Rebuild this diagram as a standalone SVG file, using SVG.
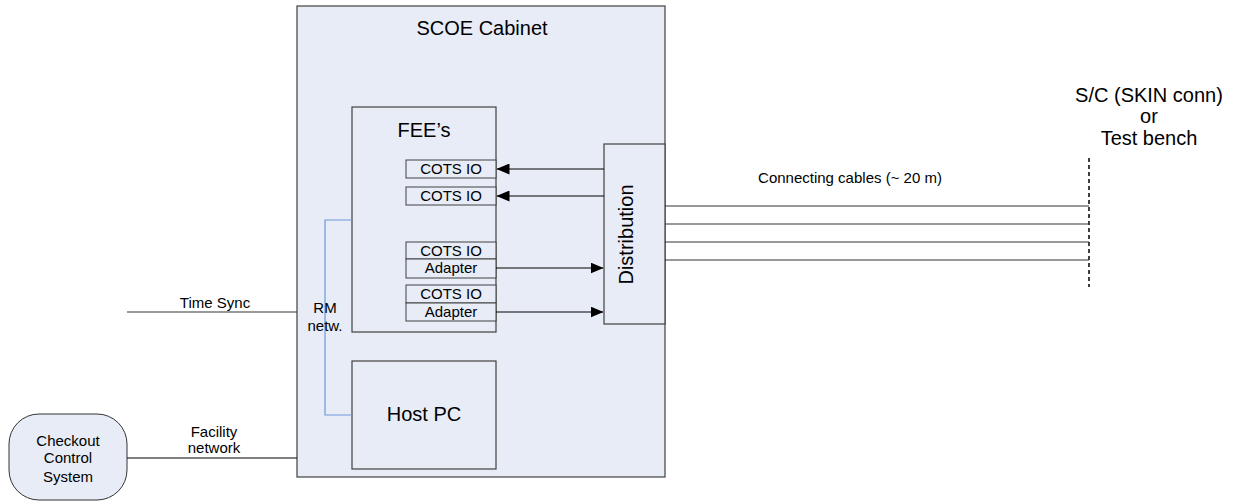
<svg xmlns="http://www.w3.org/2000/svg" width="1233" height="501" viewBox="0 0 1233 501">
<style>
text{font-family:"Liberation Sans",Arial,sans-serif;fill:#000}
.box{fill:#e7ecf6;stroke:#404040;stroke-width:1.2}
.sub{fill:#e7ecf6;stroke:#404040;stroke-width:1}
.ln{stroke:#000;stroke-width:1;fill:none}
.cab{stroke:#333;stroke-width:1;fill:none}
.s15{font-size:15px}
.s20{font-size:20px}
</style>
<defs>
<marker id="ah" markerWidth="13" markerHeight="11" refX="12.5" refY="5.5" orient="auto" markerUnits="userSpaceOnUse">
<path d="M0,0 L13,5.5 L0,11 Z" fill="#000"/>
</marker>
</defs>
<rect width="1233" height="501" fill="#fff"/>
<g id="cabinet">
<rect class="box" x="297" y="6" width="368" height="471"/>
<text class="s20" x="482" y="35" text-anchor="middle">SCOE Cabinet</text>
</g>
<g id="fee">
<rect class="box" x="352" y="107" width="144" height="225"/>
<text class="s20" x="424" y="137" text-anchor="middle">FEE’s</text>
</g>
<g id="cots1"><rect class="sub" x="406" y="160" width="90" height="18"/><text class="s15" x="451" y="174" text-anchor="middle">COTS IO</text></g>
<g id="cots2"><rect class="sub" x="406" y="187" width="90" height="18"/><text class="s15" x="451" y="201" text-anchor="middle">COTS IO</text></g>
<g id="cots3"><rect class="sub" x="406" y="242" width="90" height="17"/><text class="s15" x="451" y="256" text-anchor="middle">COTS IO</text></g>
<g id="adapter1"><rect class="sub" x="406" y="259" width="90" height="19"/><text class="s15" x="451" y="273" text-anchor="middle">Adapter</text></g>
<g id="cots4"><rect class="sub" x="406" y="285" width="90" height="18"/><text class="s15" x="451" y="299" text-anchor="middle">COTS IO</text></g>
<g id="adapter2"><rect class="sub" x="406" y="303" width="90" height="18"/><text class="s15" x="451" y="317" text-anchor="middle">Adapter</text></g>
<g id="distribution">
<rect class="box" x="604" y="144" width="61" height="180"/>
<text class="s20" transform="translate(633,234.5) rotate(-90)" text-anchor="middle">Distribution</text>
</g>
<g id="hostpc">
<rect class="box" x="352" y="361" width="144" height="108"/>
<text class="s20" x="424" y="421" text-anchor="middle">Host PC</text>
</g>
<g id="checkout">
<rect x="9" y="414" width="118" height="86" rx="30" ry="30" fill="#e7ecf6" stroke="#333" stroke-width="1"/>
<text class="s15" x="68" y="446" text-anchor="middle">Checkout</text>
<text class="s15" x="68" y="463" text-anchor="middle">Control</text>
<text class="s15" x="68" y="482" text-anchor="middle">System</text>
</g>
<g id="target">
<text class="s20" x="1149" y="102" text-anchor="middle">S/C (SKIN conn)</text>
<text class="s20" x="1149" y="123" text-anchor="middle">or</text>
<text class="s20" x="1149" y="145" text-anchor="middle">Test bench</text>
<line x1="1089" y1="158" x2="1089" y2="287" stroke="#000" stroke-width="1.5" stroke-dasharray="4,3"/>
</g>
<g id="connectors">
<line class="ln" x1="604" y1="169" x2="497" y2="169" marker-end="url(#ah)"/>
<line class="ln" x1="604" y1="196" x2="497" y2="196" marker-end="url(#ah)"/>
<line class="ln" x1="496" y1="268" x2="603" y2="268" marker-end="url(#ah)"/>
<line class="ln" x1="496" y1="312" x2="603" y2="312" marker-end="url(#ah)"/>
<line class="cab" x1="665" y1="206" x2="1089" y2="206"/>
<line class="cab" x1="665" y1="224" x2="1089" y2="224"/>
<line class="cab" x1="665" y1="242" x2="1089" y2="242"/>
<line class="cab" x1="665" y1="260" x2="1089" y2="260"/>
<text class="s15" x="850" y="183" text-anchor="middle">Connecting cables (~ 20 m)</text>
<polyline points="352,220 325,220 325,415 352,415" fill="none" stroke="#6f98d8" stroke-width="1.2"/>
<text class="s15" x="325" y="313" text-anchor="middle">RM</text>
<text class="s15" x="325" y="331" text-anchor="middle">netw.</text>
<line class="cab" x1="127" y1="312" x2="297" y2="312"/>
<text class="s15" x="215" y="308" text-anchor="middle">Time Sync</text>
<line class="ln" x1="127" y1="458" x2="297" y2="458"/>
<text class="s15" x="214" y="437" text-anchor="middle">Facility</text>
<text class="s15" x="214" y="453" text-anchor="middle">network</text>
</g>
</svg>
